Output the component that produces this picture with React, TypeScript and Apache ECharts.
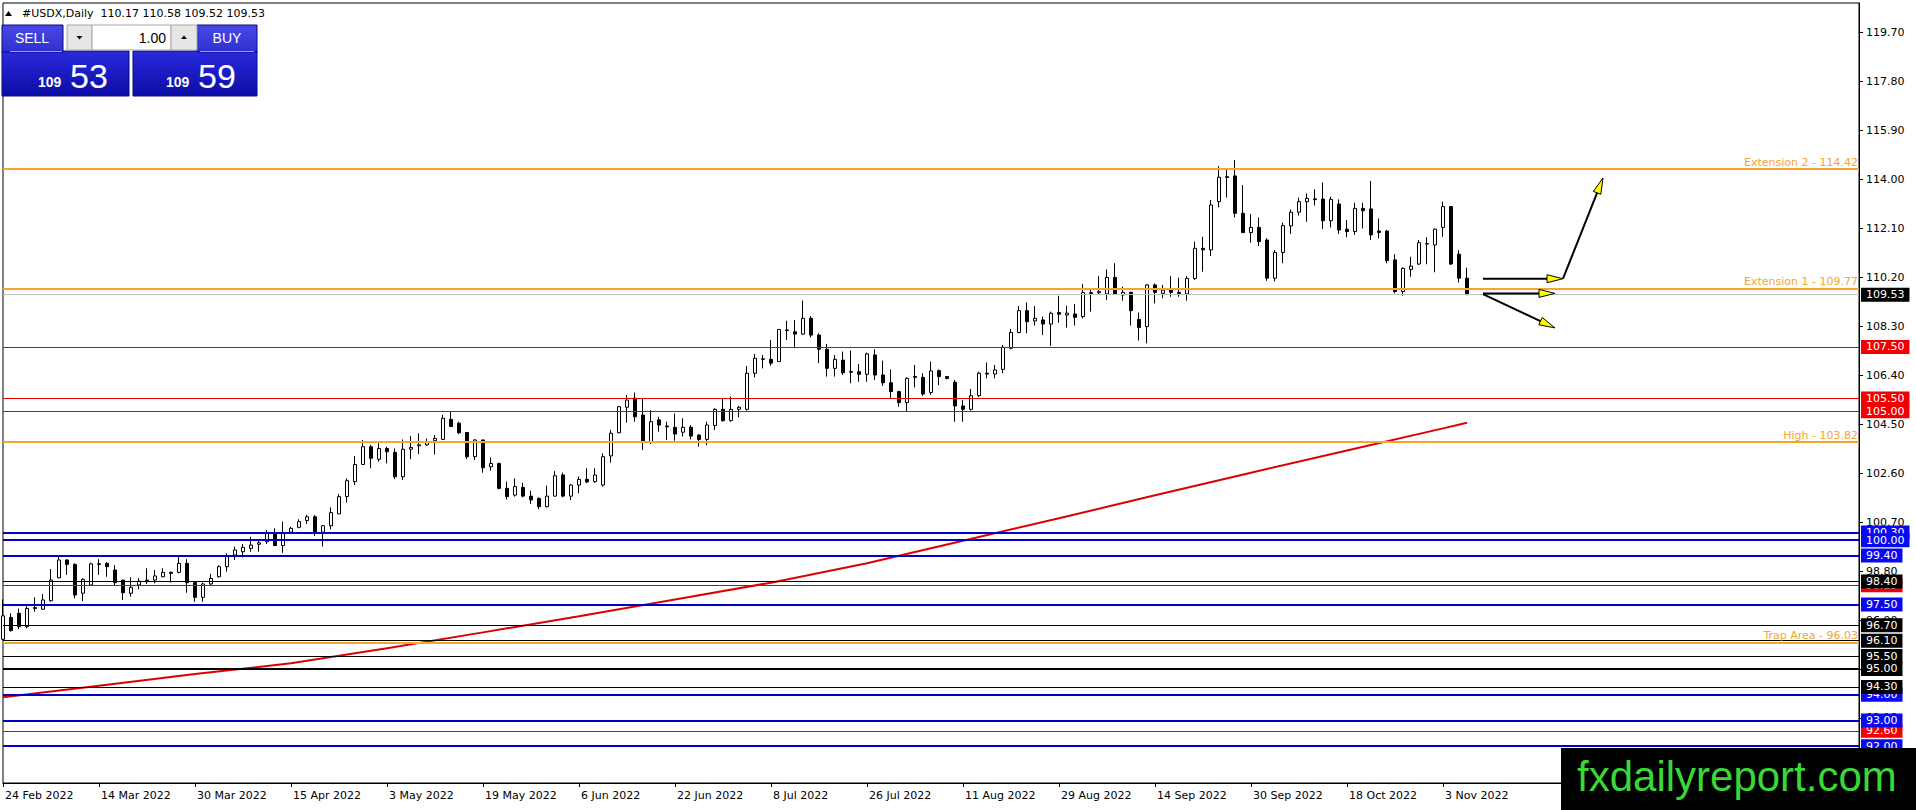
import React, { useEffect, useRef } from "react";
import * as echarts from "echarts";

// ---- Daily OHLC of #USDX, 24 Feb 2022 .. 8 Nov 2022 ----
const opens = [
  96.15, 97.0, 97.16, 96.64, 97.38, 97.32, 97.65, 98.54, 99.23, 99.06,
  97.94, 98.26, 99.08, 99.1, 98.84, 98.45, 97.94, 98.26, 98.45, 98.45,
  98.58, 98.75, 98.75, 99.1, 98.35, 97.78, 98.3, 98.58, 98.97, 99.42,
  99.55, 99.68, 99.84, 99.94, 100.27, 99.79, 100.31, 100.5, 100.76, 100.91,
  100.31, 100.56, 101.02, 101.69, 102.27, 102.94, 103.63, 103.14, 103.56, 103.41,
  102.46, 103.53, 103.66, 103.7, 103.86, 103.91, 104.69, 104.54, 104.18, 103.24,
  103.89, 102.85, 102.98, 102.01, 101.75, 102.05, 101.71, 101.62, 101.3, 101.71,
  102.53, 101.71, 102.14, 102.36, 102.27, 102.14, 103.27, 104.17, 105.16, 105.51,
  104.86, 103.79, 104.67, 104.43, 104.38, 104.19, 104.38, 104.08, 103.91, 104.45,
  105.08, 104.64, 105.08, 105.08, 106.48, 107.04, 107.02, 106.93, 108.16, 108.09,
  108.0, 108.61, 107.96, 107.41, 106.67, 106.99, 106.55, 106.54, 106.44, 107.19,
  106.41, 106.11, 105.77, 105.34, 106.35, 106.32, 105.73, 106.58, 106.35, 106.13,
  105.21, 105.08, 105.61, 106.48, 106.45, 106.63, 107.45, 108.06, 108.91, 108.51,
  108.55, 108.39, 108.84, 108.74, 108.78, 108.68, 109.61, 109.6, 109.56, 110.2,
  109.52, 109.62, 108.57, 108.29, 109.91, 109.58, 109.71, 109.62, 109.56, 110.16,
  111.33, 111.27, 113.14, 114.11, 114.14, 112.69, 111.94, 112.14, 111.65, 110.17,
  111.17, 112.2, 112.73, 113.14, 113.25, 113.24, 112.4, 113.05, 112.07, 111.98,
  112.88, 112.86, 112.0, 112.0, 110.88, 109.65, 110.51, 110.72, 111.51, 111.46,
  112.14, 112.95, 111.1, 110.17,
];
const highs = [
  97.7, 97.16, 97.35, 97.48, 97.78, 97.91, 98.88, 99.39, 99.26, 99.1,
  98.52, 99.13, 99.26, 99.14, 99.03, 98.45, 98.56, 98.52, 98.91, 98.84,
  98.91, 98.78, 99.36, 99.26, 98.39, 98.35, 98.69, 99.03, 99.49, 99.75,
  99.85, 100.13, 100.01, 100.39, 100.46, 100.72, 100.52, 100.81, 100.98, 100.98,
  100.59, 101.27, 101.79, 102.4, 103.27, 103.89, 103.7, 103.76, 103.63, 103.56,
  103.91, 104.04, 104.15, 103.95, 104.08, 104.86, 105.01, 104.6, 104.18, 103.92,
  103.9, 103.21, 103.01, 102.27, 102.4, 102.23, 101.92, 101.66, 102.12, 102.68,
  102.62, 102.18, 102.47, 102.79, 102.79, 103.37, 104.28, 105.21, 105.64, 105.73,
  105.51, 105.05, 104.79, 104.6, 104.92, 104.73, 104.47, 104.12, 104.6, 105.12,
  105.51, 105.57, 105.21, 106.76, 107.23, 107.19, 107.77, 108.18, 108.52, 108.55,
  109.3, 108.7, 108.03, 107.62, 107.19, 107.32, 107.36, 106.84, 107.28, 107.41,
  106.97, 106.63, 105.8, 106.32, 106.8, 106.48, 106.93, 106.63, 106.37, 106.22,
  105.44, 105.87, 106.54, 106.9, 106.8, 107.58, 108.2, 109.09, 109.23, 109.09,
  108.68, 108.87, 109.49, 109.1, 109.17, 109.94, 109.74, 110.25, 110.51, 110.75,
  109.84, 109.65, 108.84, 109.93, 109.97, 109.91, 110.25, 110.19, 110.25, 111.59,
  111.78, 113.21, 114.52, 114.43, 114.76, 113.79, 112.66, 112.53, 111.72, 111.26,
  112.33, 112.84, 113.3, 113.46, 113.62, 113.89, 113.33, 113.23, 112.43, 113.1,
  113.1, 113.94, 112.49, 112.04, 111.1, 110.59, 111.0, 111.65, 111.76, 112.1,
  113.14, 112.97, 111.26, 110.58,
];
const lows = [
  96.12, 96.45, 96.54, 96.58, 97.22, 97.29, 97.61, 98.52, 98.65, 97.74,
  97.64, 98.23, 98.65, 98.58, 98.22, 97.68, 97.81, 98.09, 98.3, 98.32,
  98.56, 98.35, 98.71, 97.96, 97.61, 97.61, 98.26, 98.55, 98.78, 99.23,
  99.33, 99.55, 99.55, 99.85, 99.78, 99.51, 100.27, 100.46, 100.63, 100.16,
  99.75, 100.42, 101.02, 101.46, 102.14, 102.92, 102.79, 103.05, 102.98, 102.37,
  102.34, 103.14, 103.34, 103.66, 103.33, 103.89, 104.41, 104.12, 103.15, 103.11,
  102.62, 102.7, 101.97, 101.58, 101.69, 101.66, 101.4, 101.2, 101.27, 101.69,
  101.66, 101.56, 101.82, 102.21, 102.23, 102.08, 103.01, 104.15, 104.56, 104.6,
  103.5, 103.73, 104.21, 103.89, 103.86, 104.02, 103.91, 103.63, 103.69, 104.28,
  104.6, 104.6, 104.77, 105.03, 106.32, 106.67, 106.77, 106.93, 107.77, 107.45,
  107.97, 107.87, 106.87, 106.35, 106.35, 106.41, 106.09, 106.15, 106.15, 106.22,
  105.99, 105.51, 105.18, 105.01, 105.93, 105.6, 105.64, 106.02, 106.24, 104.6,
  104.6, 105.03, 105.55, 106.28, 106.28, 106.48, 107.41, 108.03, 108.03, 108.33,
  107.96, 107.54, 108.44, 108.25, 108.33, 108.61, 108.87, 109.52, 109.32, 109.52,
  109.3, 108.33, 107.75, 107.64, 109.19, 109.39, 109.45, 109.45, 109.3, 110.1,
  110.42, 111.03, 112.92, 113.3, 112.53, 111.94, 111.55, 111.42, 110.07, 110.04,
  110.75, 111.89, 112.6, 112.36, 112.99, 112.08, 112.14, 111.89, 111.76, 111.85,
  112.1, 111.65, 111.72, 110.75, 109.58, 109.49, 110.23, 110.68, 110.71, 110.4,
  111.78, 110.68, 110.0, 109.52,
];
const closes = [
  97.06, 96.49, 96.64, 97.35, 97.35, 97.68, 98.45, 99.23, 99.06, 97.87,
  98.48, 99.08, 99.06, 98.97, 98.35, 97.96, 98.17, 98.41, 98.39, 98.61,
  98.75, 98.71, 99.1, 98.35, 97.78, 98.3, 98.51, 98.97, 99.36, 99.62,
  99.72, 99.81, 99.9, 100.27, 99.79, 100.27, 100.46, 100.72, 100.91, 100.31,
  100.56, 101.07, 101.69, 102.31, 102.94, 103.63, 103.18, 103.56, 103.43, 102.46,
  103.53, 103.6, 103.7, 103.82, 103.95, 104.73, 104.41, 104.17, 103.24, 103.89,
  102.81, 102.98, 102.01, 101.69, 102.08, 101.71, 101.56, 101.3, 101.71, 102.5,
  101.71, 102.14, 102.36, 102.26, 102.53, 103.24, 104.15, 105.18, 105.44, 104.79,
  103.82, 104.6, 104.47, 104.4, 104.12, 104.38, 104.04, 103.91, 104.47, 105.08,
  104.64, 105.08, 105.16, 106.48, 107.06, 107.02, 106.87, 108.18, 108.14, 108.0,
  108.61, 107.96, 107.41, 106.67, 107.02, 106.5, 106.52, 106.44, 107.23, 106.41,
  106.11, 105.77, 105.34, 106.28, 106.32, 105.67, 106.57, 106.35, 106.28, 105.21,
  105.08, 105.61, 106.48, 106.45, 106.61, 107.49, 108.06, 108.91, 108.48, 108.61,
  108.39, 108.81, 108.77, 108.81, 108.65, 109.61, 109.58, 109.65, 110.2, 109.56,
  109.62, 108.91, 108.26, 109.91, 109.62, 109.71, 109.62, 109.58, 110.16, 111.33,
  111.27, 113.01, 114.09, 114.08, 112.69, 111.94, 112.14, 111.59, 110.17, 111.17,
  112.21, 112.73, 113.14, 113.27, 113.22, 112.4, 113.23, 112.04, 111.98, 112.88,
  112.79, 111.85, 111.94, 110.85, 109.65, 110.55, 110.64, 111.55, 111.5, 112.07,
  112.95, 110.72, 110.17, 109.53,
];

// red moving average, read at the labelled dates
const maIndex = [0, 12, 24, 36, 48, 60, 72, 84, 96, 108, 120, 132, 144, 156, 168, 180, 183];
const maValues = [93.9, 94.35, 94.8, 95.22, 95.8, 96.42, 97.05, 97.7, 98.35, 99.1, 99.98, 100.85, 101.74, 102.62, 103.48, 104.34, 104.56];

// horizontal levels
const namedLevelNames = ["Extension 2", "Extension 1", "High", "Trap Area"];
const namedLevelValues = [114.42, 109.77, 103.82, 96.03];
const redLevels = [107.5, 105.5, 105.0, 98.25, 92.6];
const blueLevels = [100.3, 100.0, 99.4, 97.5, 94.0, 93.0, 92.0];
const blackLevels = [98.4, 96.7, 96.1, 95.5, 95.0, 94.3];
const askPrice = 109.59;

// price-axis tick labels
const priceTicks = [91.2, 93.1, 95.0, 96.9, 98.8, 100.7, 102.6, 104.5, 106.4, 108.3, 110.2, 112.1, 114.0, 115.9, 117.8, 119.7];
const tickEvery = 12;
const totalSlots = 233;

// arrows drawn on the chart: [fromBar, fromPrice, toBar, toPrice]
const arrowSegments = [
  [185, 110.15, 195, 110.15],
  [195, 110.15, 200, 114.06],
  [185, 109.58, 194, 109.58],
  [185, 109.55, 194.25, 108.24],
];

const MONTHS = ["Jan", "Feb", "Mar", "Apr", "May", "Jun", "Jul", "Aug", "Sep", "Oct", "Nov", "Dec"];
function buildDates(n: number): string[] {
  const out: string[] = [];
  const d = new Date(Date.UTC(2022, 1, 24));
  while (out.length < n) {
    const wd = d.getUTCDay();
    if (wd !== 0 && wd !== 6) out.push(`${d.getUTCDate()} ${MONTHS[d.getUTCMonth()]} ${d.getUTCFullYear()}`);
    d.setUTCDate(d.getUTCDate() + 1);
  }
  return out;
}

const FONT = "DejaVu Sans";
const ORANGE = "#f3a630";
const RED = "#e80000";
const BLUE = "#0000c8";
const BOX_BLUE = "#0a0af0";

export default function App() {
  const ref = useRef<HTMLDivElement>(null);
  useEffect(() => {
    if (!ref.current) return;
    const chart = echarts.init(ref.current, undefined, { renderer: "svg" });
    const n = closes.length;
    const dates = buildDates(totalSlots);
    const last = n - 1;
    const candleData = opens.map((o, i) => [o, closes[i], lows[i], highs[i]]);
    const showIdx = (index: number) => index % tickEvery === 0 && index < n;

    const boxLabel = (v: number, bg: string) => ({
      show: true,
      position: "end",
      distance: 2,
      formatter: v.toFixed(2),
      color: "#fff",
      backgroundColor: bg,
      padding: [1, 5, 1, 5],
      fontFamily: FONT,
      fontSize: 11,
      lineHeight: 12,
    });

    const lines: any[] = [];
    namedLevelValues.forEach((v, k) => {
      lines.push({
        yAxis: v,
        lineStyle: { color: ORANGE, width: 2, type: "solid" },
        label: {
          show: true,
          position: "insideEndTop",
          distance: 1,
          formatter: `${namedLevelNames[k]} - ${v.toFixed(2)}`,
          color: ORANGE,
          fontFamily: FONT,
          fontSize: 11,
        },
      });
    });
    lines.push({ yAxis: closes[last], lineStyle: { color: "#c0c0c0", width: 1, type: "solid" }, label: boxLabel(closes[last], "#000") });
    redLevels.forEach((v) => lines.push({ yAxis: v, lineStyle: { color: RED, width: 1, type: "solid" }, label: boxLabel(v, "#f00000") }));
    [...blueLevels].sort((a, b) => b - a).forEach((v) =>
      lines.push({ yAxis: v, lineStyle: { color: BLUE, width: 2, type: "solid" }, label: boxLabel(v, BOX_BLUE) })
    );
    blackLevels.forEach((v) =>
      lines.push({ yAxis: v, lineStyle: { color: "#000", width: v === 95 ? 2 : 1, type: "solid" }, label: boxLabel(v, "#000") })
    );

    const header = `#USDX,Daily  ${opens[last].toFixed(2)} ${highs[last].toFixed(2)} ${lows[last].toFixed(2)} ${closes[last].toFixed(2)}`;
    const bid = closes[last].toFixed(2);
    const ask = askPrice.toFixed(2);
    const blockGrad = new echarts.graphic.LinearGradient(0, 0, 0, 1, [
      { offset: 0, color: "#2a2ade" },
      { offset: 1, color: "#0c0ca6" },
    ]);
    const btnGrad = new echarts.graphic.LinearGradient(0, 0, 0, 1, [
      { offset: 0, color: "#4848e6" },
      { offset: 1, color: "#3030d2" },
    ]);
    const Z = 100;
    const graphic: any[] = [
      { type: "polygon", z: Z, shape: { points: [[5, 16], [8.5, 11], [12, 16]] }, style: { fill: "#000" } },
      { type: "text", z: Z, x: 22, y: 13, style: { text: header, fill: "#000", font: `11px "${FONT}"`, verticalAlign: "middle" } },
      // big blocks
      { type: "rect", z: Z, shape: { x: 2, y: 51, width: 127, height: 45 }, style: { fill: blockGrad, stroke: "#0a0a7a", lineWidth: 1 } },
      { type: "rect", z: Z, shape: { x: 133, y: 51, width: 124, height: 45 }, style: { fill: blockGrad, stroke: "#0a0a7a", lineWidth: 1 } },
      // SELL / BUY buttons
      { type: "rect", z: Z, shape: { x: 2, y: 25, width: 61, height: 27 }, style: { fill: btnGrad, stroke: "#0a0a7a", lineWidth: 1 } },
      { type: "rect", z: Z, shape: { x: 197, y: 25, width: 60, height: 27 }, style: { fill: btnGrad, stroke: "#0a0a7a", lineWidth: 1 } },
      { type: "line", z: Z, shape: { x1: 10, y1: 51.5, x2: 62, y2: 51.5 }, style: { stroke: "#9a9af4", lineWidth: 1 } },
      { type: "line", z: Z, shape: { x1: 200, y1: 51.5, x2: 254, y2: 51.5 }, style: { stroke: "#9a9af4", lineWidth: 1 } },
      { type: "text", z: Z, x: 32, y: 38, style: { text: "SELL", fill: "#fff", font: '14px "Liberation Sans"', align: "center", verticalAlign: "middle" } },
      { type: "text", z: Z, x: 227, y: 38, style: { text: "BUY", fill: "#fff", font: '14px "Liberation Sans"', align: "center", verticalAlign: "middle" } },
      // lot control
      { type: "rect", z: Z, shape: { x: 67, y: 25, width: 25, height: 25 }, style: { fill: "#e6e6e6", stroke: "#a8a8a8", lineWidth: 1 } },
      { type: "rect", z: Z, shape: { x: 92, y: 25, width: 79, height: 25 }, style: { fill: "#fff", stroke: "#a8a8a8", lineWidth: 1 } },
      { type: "rect", z: Z, shape: { x: 171, y: 25, width: 26, height: 25 }, style: { fill: "#e6e6e6", stroke: "#a8a8a8", lineWidth: 1 } },
      { type: "polygon", z: Z, shape: { points: [[76.5, 36], [82.5, 36], [79.5, 39.5]] }, style: { fill: "#000" } },
      { type: "polygon", z: Z, shape: { points: [[181, 39], [187, 39], [184, 35.5]] }, style: { fill: "#000" } },
      { type: "text", z: Z, x: 166, y: 37.5, style: { text: "1.00", fill: "#000", font: '14px "Liberation Sans"', align: "right", verticalAlign: "middle" } },
      // prices
      { type: "text", z: Z, x: 38, y: 82, style: { text: bid.slice(0, 3), fill: "#fff", font: 'bold 14px "Liberation Sans"', verticalAlign: "middle" } },
      { type: "text", z: Z, x: 70, y: 76, style: { text: bid.slice(4, 6), fill: "#fff", font: '34px "Liberation Sans"', verticalAlign: "middle" } },
      { type: "text", z: Z, x: 166, y: 82, style: { text: ask.slice(0, 3), fill: "#fff", font: 'bold 14px "Liberation Sans"', verticalAlign: "middle" } },
      { type: "text", z: Z, x: 198, y: 76, style: { text: ask.slice(4, 6), fill: "#fff", font: '34px "Liberation Sans"', verticalAlign: "middle" } },
      // watermark
      { type: "rect", z: Z, shape: { x: 1561, y: 748, width: 355, height: 62 }, style: { fill: "#000" } },
      { type: "text", z: Z, x: 1577, y: 776, style: { text: "fxdailyreport.com", fill: "#3ad836", font: '42px "Liberation Sans"', verticalAlign: "middle" } },
    ];

    chart.setOption({
      animation: false,
      backgroundColor: "#fff",
      textStyle: { fontFamily: FONT, fontSize: 11 },
      grid: { left: 3, right: 57, top: 3, bottom: 27, show: true, borderColor: "#000", borderWidth: 1, backgroundColor: "#fff" },
      xAxis: {
        type: "category",
        data: dates,
        boundaryGap: false,
        axisLine: { show: true, lineStyle: { color: "#000", width: 1 } },
        axisTick: { show: true, interval: (i: number) => showIdx(i), length: 4, lineStyle: { color: "#000" } },
        axisLabel: {
          interval: (i: number) => showIdx(i),
          align: "left",
          margin: 7,
          color: "#000",
          fontFamily: FONT,
          fontSize: 11,
          padding: [0, 0, 0, 2],
        },
        splitLine: { show: false },
      },
      yAxis: {
        type: "value",
        position: "right",
        min: 90.573,
        max: 120.853,
        axisLine: { show: true, lineStyle: { color: "#000", width: 1 } },
        axisTick: { show: true, length: 4, customValues: priceTicks, lineStyle: { color: "#000" } },
        axisLabel: {
          customValues: priceTicks,
          formatter: (v: number) => v.toFixed(2),
          margin: 7,
          color: "#000",
          fontFamily: FONT,
          fontSize: 11,
        },
        splitLine: { show: false },
      },
      series: [
        {
          type: "line",
          name: "MA",
          data: maIndex.map((ix, k) => [ix, maValues[k]]),
          symbol: "none",
          showSymbol: false,
          lineStyle: { color: "#dd0000", width: 2 },
          z: 3,
          silent: true,
          markLine: { silent: true, symbol: ["none", "none"], animation: false, data: lines },
        },
        {
          type: "candlestick",
          name: "USDX",
          data: candleData,
          barWidth: 4,
          z: 4,
          silent: true,
          itemStyle: { color: "#fff", color0: "#000", borderColor: "#000", borderColor0: "#000", borderWidth: 1 },
        },
        {
          type: "custom",
          name: "arrows",
          z: 5,
          silent: true,
          data: arrowSegments,
          encode: { x: [0, 2], y: [1, 3] },
          renderItem: (_p: any, api: any) => {
            const p0 = api.coord([api.value(0), api.value(1)]);
            const p1 = api.coord([api.value(2), api.value(3)]);
            const dx = p1[0] - p0[0];
            const dy = p1[1] - p0[1];
            const len = Math.hypot(dx, dy) || 1;
            const ux = dx / len;
            const uy = dy / len;
            const hl = 16;
            const hw = 4;
            const bx = p1[0] - ux * hl;
            const by = p1[1] - uy * hl;
            return {
              type: "group",
              children: [
                { type: "line", shape: { x1: p0[0], y1: p0[1], x2: bx + ux * 4, y2: by + uy * 4 }, style: { stroke: "#000", lineWidth: 2 } },
                {
                  type: "polygon",
                  shape: { points: [[p1[0], p1[1]], [bx - uy * hw, by + ux * hw], [bx + uy * hw, by - ux * hw]] },
                  style: { fill: "#ffff00", stroke: "#000", lineWidth: 1 },
                },
              ],
            };
          },
        },
      ],
      graphic,
    });
    return () => chart.dispose();
  }, []);
  return <div ref={ref} style={{ position: "fixed", left: 0, top: 0, width: 1916, height: 810 }} />;
}
